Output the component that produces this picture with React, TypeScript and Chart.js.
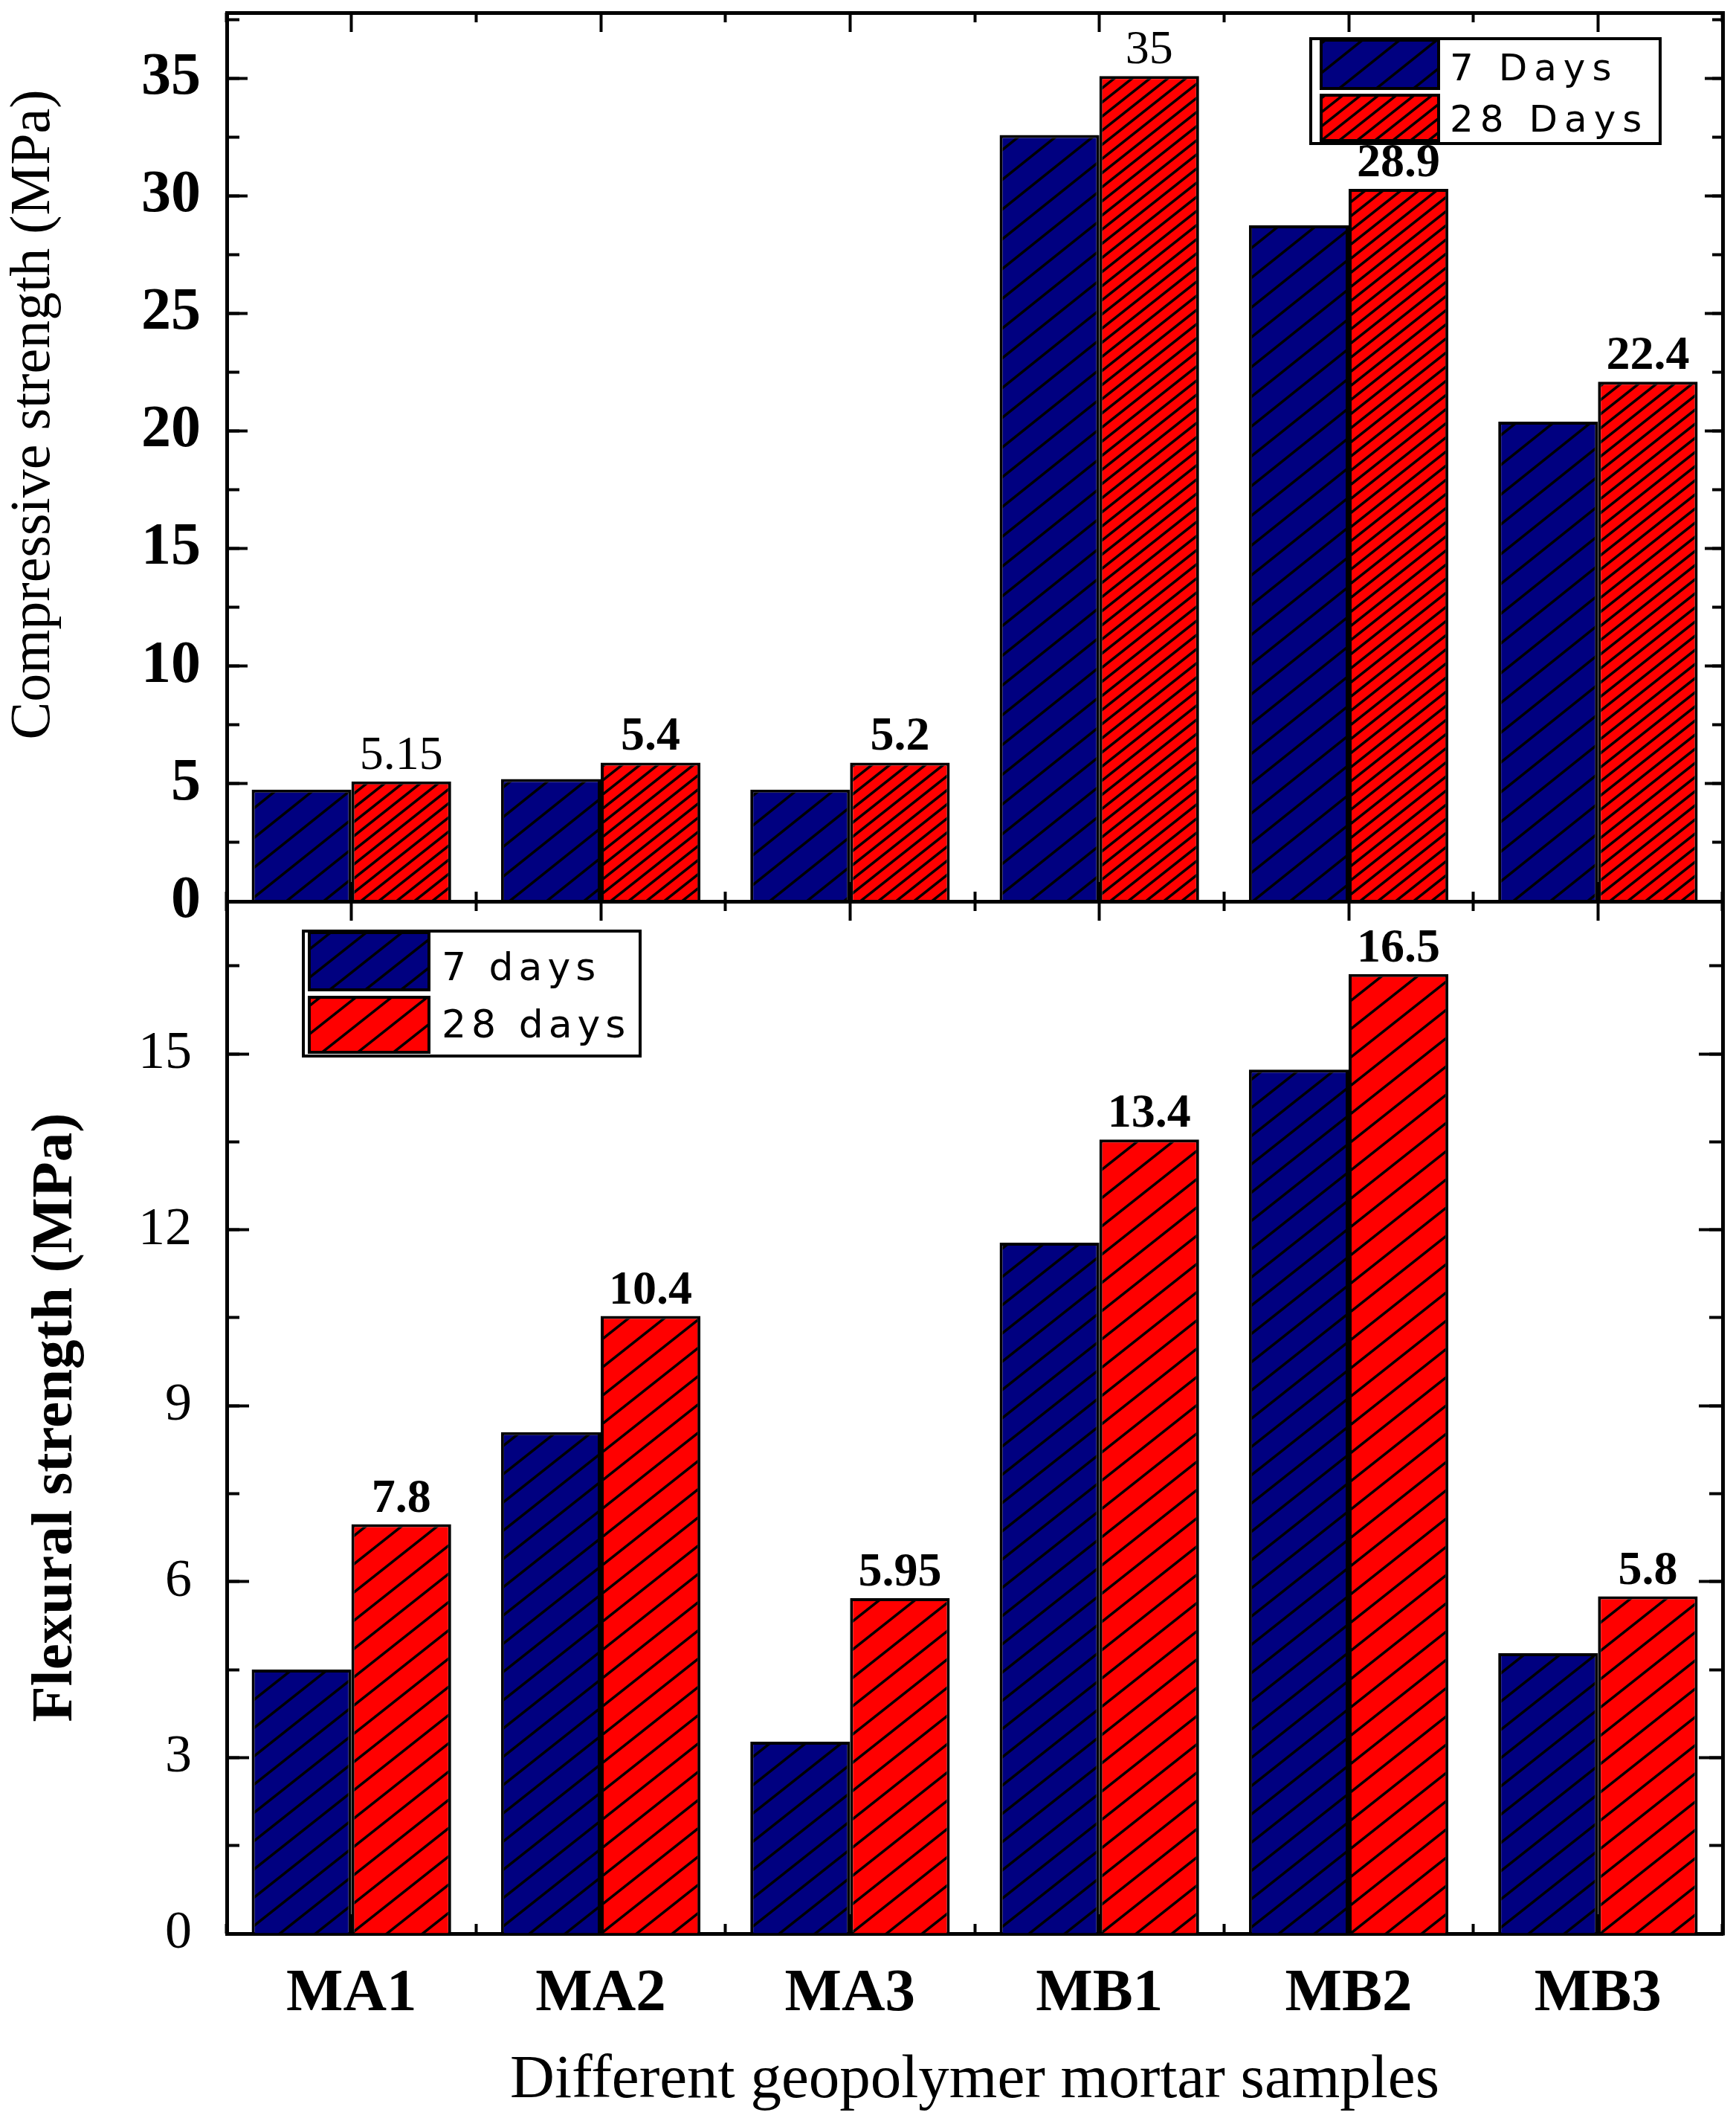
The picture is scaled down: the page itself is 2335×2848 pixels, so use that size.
import React, { useEffect, useRef } from 'react';
import { Chart, registerables } from 'chart.js';

Chart.register(...registerables);

// ---------------- data ----------------
const SAMPLES = ['MA1', 'MA2', 'MA3', 'MB1', 'MB2', 'MB3'];

const COMP_7_DAYS = [4.75, 5.2, 4.75, 32.6, 28.75, 20.4];
const COMP_28_DAYS = [5.1, 5.9, 5.9, 35.1, 30.3, 22.1];
const COMP_VALUE_LABELS = ['5.15', '5.4', '5.2', '35', '28.9', '22.4'];
const COMP_SERIES = ['7 Days', '28 Days'];
const COMP_AXIS_MAX = 37.8;
const COMP_MAJOR_STEP = 5;
const COMP_MINOR_STEP = 2.5;

const FLEX_7_DAYS = [4.5, 8.55, 3.27, 11.78, 14.73, 4.78];
const FLEX_28_DAYS = [6.98, 10.53, 5.72, 13.54, 16.36, 5.75];
const FLEX_VALUE_LABELS = ['7.8', '10.4', '5.95', '13.4', '16.5', '5.8'];
const FLEX_SERIES = ['7 days', '28 days'];
const FLEX_AXIS_MAX = 17.6;
const FLEX_MAJOR_STEP = 3;
const FLEX_MINOR_STEP = 1.5;

const COMP_TITLE = '      Compressive strength (MPa)';
const FLEX_TITLE = 'Flexural strength (MPa)';
const X_TITLE = 'Different geopolymer mortar samples';

// ---------------- styles ----------------
const SERIF = '"Liberation Serif", "Times New Roman", serif';
const SANS = '"DejaVu Sans", Verdana, sans-serif';
const NAVY = '#000080';
const RED = '#ff0000';
const COMP_LABEL_WEIGHTS = ['normal', 'bold', 'bold', 'normal', 'bold', 'bold'];

function hatch(color: string, w: number, h: number, lw: number): CanvasPattern | string {
  const c = document.createElement('canvas');
  c.width = w;
  c.height = h;
  const g = c.getContext('2d');
  if (!g) return color;
  g.fillStyle = color;
  g.fillRect(0, 0, w, h);
  g.strokeStyle = '#000';
  g.lineWidth = lw;
  for (const k of [0, 1, 2]) {
    g.beginPath();
    g.moveTo((k + 1) * w, -h);
    g.lineTo(-w, (k + 1) * h);
    g.stroke();
  }
  return g.createPattern(c, 'repeat') || color;
}

const fixSize = (size: number) => (scale: any) => {
  if (scale.isHorizontal()) scale.height = size;
  else scale.width = size;
  scale.paddingTop = 0;
  scale.paddingBottom = 0;
  scale.paddingLeft = 0;
  scale.paddingRight = 0;
};

const tickGrid = (len: number, offset = false) => ({
  display: true,
  drawOnChartArea: false,
  drawTicks: true,
  tickLength: -len,
  tickWidth: 4,
  tickColor: '#000',
  offset,
});

const FRAME = { display: true, width: 5, color: '#000' };
const NO_BORDER = { display: false };

function categoryAxes(position: 'top' | 'bottom', labelTicks: any, title: any, size: number) {
  const main = position === 'bottom' ? 'x' : 'xTop';
  const minor = position === 'bottom' ? 'xMinor' : 'xTopMinor';
  return {
    [main]: {
      type: 'category',
      axis: 'x',
      position,
      weight: 1,
      offset: true,
      grid: tickGrid(26, false),
      border: FRAME,
      ticks: labelTicks,
      title,
      afterFit: fixSize(size),
    },
    [minor]: {
      type: 'category',
      axis: 'x',
      position,
      weight: 0,
      offset: true,
      grid: tickGrid(13, true),
      border: NO_BORDER,
      ticks: { display: false },
      afterFit: fixSize(0),
    },
  };
}

function valueAxes(position: 'left' | 'right', max: number, major: number, minor: number, labelTicks: any, title: any, size: number, majorLen: number, minorLen: number) {
  const main = position === 'left' ? 'y' : 'yRight';
  const minorId = position === 'left' ? 'yMinor' : 'yRightMinor';
  return {
    [main]: {
      type: 'linear',
      axis: 'y',
      position,
      weight: 1,
      min: 0,
      max,
      grid: tickGrid(majorLen),
      border: FRAME,
      ticks: { stepSize: major, includeBounds: false, ...labelTicks },
      title,
      afterFit: fixSize(size),
    },
    [minorId]: {
      type: 'linear',
      axis: 'y',
      position,
      weight: 0,
      min: 0,
      max,
      grid: tickGrid(minorLen),
      border: NO_BORDER,
      ticks: { stepSize: minor, includeBounds: false, display: false },
      afterFit: fixSize(0),
    },
  };
}

function valueLabels(datasetIndex: number, labels: string[], weights: string[], size: number, gap: number) {
  return {
    id: 'valueLabels',
    afterDatasetsDraw(chart: any) {
      const meta = chart.getDatasetMeta(datasetIndex);
      const ctx = chart.ctx;
      ctx.save();
      ctx.fillStyle = '#000';
      ctx.textAlign = 'center';
      ctx.textBaseline = 'alphabetic';
      meta.data.forEach((bar: any, i: number) => {
        ctx.font = `${weights[i] || 'bold'} ${size}px ${SERIF}`;
        ctx.fillText(labels[i], bar.x, bar.y - gap);
      });
      ctx.restore();
    },
  };
}

interface LegendCfg {
  box: [number, number, number, number];
  swatches: [number, number, number, number][];
  textX: number;
  baselines: number[];
  size: number;
  spacing: number;
}

function hatchLegend(cfg: LegendCfg) {
  return {
    id: 'hatchLegend',
    afterDraw(chart: any) {
      const ctx = chart.ctx;
      ctx.save();
      const [bx, by, bw, bh] = cfg.box;
      ctx.fillStyle = '#fff';
      ctx.fillRect(bx, by, bw, bh);
      ctx.lineWidth = 4;
      ctx.strokeStyle = '#000';
      ctx.strokeRect(bx, by, bw, bh);
      chart.data.datasets.forEach((ds: any, i: number) => {
        const [sx, sy, sw, sh] = cfg.swatches[i];
        ctx.fillStyle = ds.backgroundColor;
        ctx.fillRect(sx, sy, sw, sh);
        ctx.lineWidth = 4;
        ctx.strokeStyle = '#000';
        ctx.strokeRect(sx, sy, sw, sh);
        ctx.fillStyle = '#000';
        ctx.font = `${cfg.size}px ${SANS}`;
        (ctx as any).letterSpacing = `${cfg.spacing}px`;
        ctx.textAlign = 'left';
        ctx.textBaseline = 'alphabetic';
        ctx.fillText(ds.label, cfg.textX, cfg.baselines[i]);
        (ctx as any).letterSpacing = '0px';
      });
      ctx.restore();
    },
  };
}

const W = 2335;
const TOP_H = 1300;
const BOTTOM_TOP = 1150;
const BOTTOM_H = 2848 - BOTTOM_TOP;

export default function App() {
  const topRef = useRef<HTMLCanvasElement | null>(null);
  const bottomRef = useRef<HTMLCanvasElement | null>(null);

  useEffect(() => {
    document.body.style.margin = '0';
    document.body.style.background = '#fff';
    if (!topRef.current || !bottomRef.current) return;

    const topChart = new Chart(topRef.current, {
      type: 'bar',
      data: {
        labels: SAMPLES,
        datasets: [
          { label: COMP_SERIES[0], data: COMP_7_DAYS, backgroundColor: hatch(NAVY, 50, 40, 3.5) as any, borderColor: '#000', borderWidth: 4, xAxisID: 'x', yAxisID: 'y' },
          { label: COMP_SERIES[1], data: COMP_28_DAYS, backgroundColor: hatch(RED, 24, 19, 3.5) as any, borderColor: '#000', borderWidth: 4, xAxisID: 'x', yAxisID: 'y' },
        ],
      },
      options: {
        animation: false,
        responsive: false,
        devicePixelRatio: 1,
        layout: { padding: { top: 17, right: 18, bottom: TOP_H - 1212, left: 0 } },
        datasets: { bar: { categoryPercentage: 0.8, barPercentage: 1.0 } },
        plugins: { legend: { display: false }, tooltip: { enabled: false } },
        scales: {
          ...categoryAxes('bottom', { display: false }, { display: false }, 0),
          ...categoryAxes('top', { display: false }, { display: false }, 0),
          ...valueAxes('left', COMP_AXIS_MAX, COMP_MAJOR_STEP, COMP_MINOR_STEP,
            { color: '#000', padding: 63, font: { family: SERIF, size: 80, weight: 'bold' } },
            { display: true, text: COMP_TITLE, color: '#000', font: { family: SERIF, size: 76, lineHeight: 1.2 }, padding: { top: 0, bottom: 0 } },
            305, 28, 17),
          ...valueAxes('right', COMP_AXIS_MAX, COMP_MAJOR_STEP, COMP_MINOR_STEP, { display: false }, { display: false }, 0, 24, 14),
        } as any,
      },
      plugins: [
        valueLabels(1, COMP_VALUE_LABELS, COMP_LABEL_WEIGHTS, 64, 17),
        hatchLegend({
          box: [1763, 52, 470, 141],
          swatches: [[1777, 54, 158, 65], [1777, 128, 158, 61]],
          textX: 1950,
          baselines: [108, 177],
          size: 50,
          spacing: 9,
        }),
      ],
    });

    const bottomChart = new Chart(bottomRef.current, {
      type: 'bar',
      data: {
        labels: SAMPLES,
        datasets: [
          { label: FLEX_SERIES[0], data: FLEX_7_DAYS, backgroundColor: hatch(NAVY, 48, 38, 3.5) as any, borderColor: '#000', borderWidth: 4, xAxisID: 'x', yAxisID: 'y' },
          { label: FLEX_SERIES[1], data: FLEX_28_DAYS, backgroundColor: hatch(RED, 48, 38, 3.5) as any, borderColor: '#000', borderWidth: 4, xAxisID: 'x', yAxisID: 'y' },
        ],
      },
      options: {
        animation: false,
        responsive: false,
        devicePixelRatio: 1,
        layout: { padding: { top: 1212 - BOTTOM_TOP, right: 18, bottom: 0, left: 0 } },
        datasets: { bar: { categoryPercentage: 0.8, barPercentage: 1.0 } },
        plugins: { legend: { display: false }, tooltip: { enabled: false } },
        scales: {
          ...categoryAxes('bottom',
            { display: true, color: '#000', padding: 59, maxRotation: 0, autoSkip: false, font: { family: SERIF, size: 81, weight: 'bold', lineHeight: 1.2 } },
            { display: true, text: X_TITLE, color: '#000', font: { family: SERIF, size: 83, lineHeight: 1.2 }, padding: { top: 0, bottom: 0 } },
            BOTTOM_H - (2600 - BOTTOM_TOP)),
          ...categoryAxes('top', { display: false }, { display: false }, 0),
          ...valueAxes('left', FLEX_AXIS_MAX, FLEX_MAJOR_STEP, FLEX_MINOR_STEP,
            { color: '#000', padding: 77, font: { family: SERIF, size: 72 } },
            { display: true, text: FLEX_TITLE, color: '#000', font: { family: SERIF, size: 79, weight: 'bold', lineHeight: 1.2 }, padding: { top: 28, bottom: 0 } },
            305, 30, 17),
          ...valueAxes('right', FLEX_AXIS_MAX, FLEX_MAJOR_STEP, FLEX_MINOR_STEP, { display: false }, { display: false }, 0, 32, 18),
        } as any,
      },
      plugins: [
        valueLabels(1, FLEX_VALUE_LABELS, ['bold', 'bold', 'bold', 'bold', 'bold', 'bold'], 64, 17),
        hatchLegend({
          box: [408, 1252 - BOTTOM_TOP, 453, 168],
          swatches: [[416, 1254 - BOTTOM_TOP, 161, 77], [416, 1341 - BOTTOM_TOP, 161, 74]],
          textX: 594,
          baselines: [1318 - BOTTOM_TOP, 1395 - BOTTOM_TOP],
          size: 52,
          spacing: 7,
        }),
      ],
    });

    return () => {
      topChart.destroy();
      bottomChart.destroy();
    };
  }, []);

  return (
    <div style={{ position: 'relative', width: W, height: 2848, background: '#fff', overflow: 'hidden' }}>
      <canvas ref={topRef} width={W} height={TOP_H} style={{ position: 'absolute', left: 0, top: 0, width: W, height: TOP_H }} />
      <canvas ref={bottomRef} width={W} height={BOTTOM_H} style={{ position: 'absolute', left: 0, top: BOTTOM_TOP, width: W, height: BOTTOM_H }} />
    </div>
  );
}
